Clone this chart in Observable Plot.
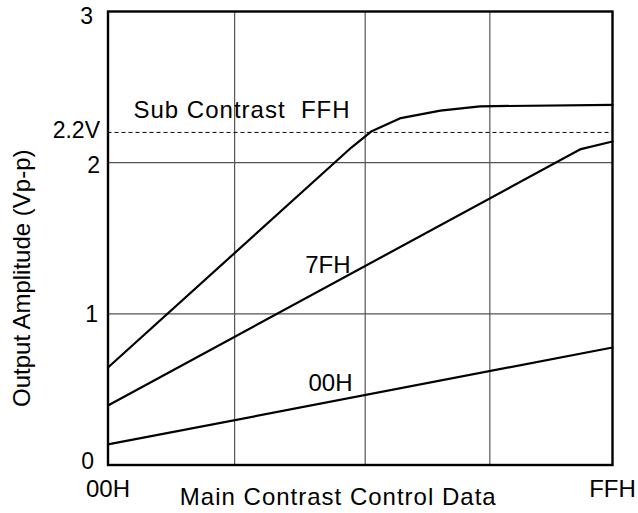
<!DOCTYPE html>
<html>
<head>
<meta charset="utf-8">
<script src="https://cdn.jsdelivr.net/npm/d3@7"></script>
<script src="https://cdn.jsdelivr.net/npm/@observablehq/plot@0.6"></script>
<style>
  html, body { margin: 0; padding: 0; background: #fff; }
  #chart { width: 638px; height: 513px; }
  svg { font-family: "Liberation Sans", Arial, sans-serif; }
</style>
</head>
<body>
<div id="chart"></div>
<script>
// Main contrast control data (0x00..0xFF) vs output amplitude (Vp-p)
const subFFH_x = [0, 123, 133, 148, 168, 188, 255];
const subFFH_y = [0.645, 2.10, 2.206, 2.295, 2.344, 2.373, 2.382];
const sub7FH_x = [0, 239, 255];
const sub7FH_y = [0.394, 2.09, 2.14];
const sub00H_x = [0, 255];
const sub00H_y = [0.136, 0.777];

const xGrid = [64, 130, 193];
const yGrid = [1, 2];
const refLevel = [2.2];
const yTicks = [0, 1, 2, 2.2, 3];
const yTickLabels = ["0", "1", "2", "2.2V", "3"];
const xTicks = [0, 255];
const xTickLabels = ["00H", "FFH"];
const xTitle = "Main Contrast Control Data";
const yTitle = "Output Amplitude (Vp-p)";

const seriesLabels = [
  {x: 122.6, y: 2.345, text: "Sub Contrast  FFH"},
  {x: 122.6, y: 1.32, text: "7FH"},
  {x: 123.6, y: 0.54, text: "00H"}
];

const rows = [];
subFFH_x.forEach((x, i) => rows.push({s: "FFH", x, y: subFFH_y[i]}));
sub7FH_x.forEach((x, i) => rows.push({s: "7FH", x, y: sub7FH_y[i]}));
sub00H_x.forEach((x, i) => rows.push({s: "00H", x, y: sub00H_y[i]}));

const yLab = d => yTickLabels[yTicks.indexOf(d)];
const yAxisOpts = {tickFormat: yLab, tickSize: 0, fontSize: 23, fill: "#000", label: null};

const chart = Plot.plot({
  width: 638,
  height: 513,
  marginLeft: 107.5,
  marginRight: 26,
  marginTop: 11,
  marginBottom: 48.5,
  style: {fontFamily: "'Liberation Sans', Arial, sans-serif", background: "#fff"},
  x: {domain: [0, 255], axis: null},
  y: {domain: [0, 3], axis: null},
  marks: [
    Plot.ruleX(xGrid, {stroke: "#555", strokeWidth: 1.2}),
    Plot.ruleY(yGrid, {stroke: "#555", strokeWidth: 1.2}),
    Plot.ruleY(refLevel, {stroke: "#000", strokeWidth: 1, strokeDasharray: "4,3"}),
    Plot.line(rows, {x: "x", y: "y", z: "s", stroke: "#000", strokeWidth: 2.2}),
    Plot.frame({stroke: "#000", strokeWidth: 2.4}),
    Plot.axisY({...yAxisOpts, ticks: [yTicks[4]], tickPadding: 15, dy: 5}),
    Plot.axisY({...yAxisOpts, ticks: [yTicks[2]], tickPadding: 8, dy: 3}),
    Plot.axisY({...yAxisOpts, ticks: [yTicks[3]], tickPadding: 8, dy: -2}),
    Plot.axisY({...yAxisOpts, ticks: [yTicks[1]], tickPadding: 10, dy: 1}),
    Plot.axisY({...yAxisOpts, ticks: [yTicks[0]], tickPadding: 14, dy: -3}),
    Plot.axisX({ticks: xTicks, tickFormat: d => xTickLabels[xTicks.indexOf(d)], tickSize: 0, tickPadding: 15, fontSize: 24, fill: "#000", label: null}),
    Plot.text([xTitle], {frameAnchor: "bottom", textAnchor: "middle", dx: -22, dy: 40, fontSize: 24, fill: "#000"}),
    Plot.text([yTitle], {frameAnchor: "left", textAnchor: "middle", rotate: -90, dx: -85.5, dy: 40, fontSize: 24, fill: "#000"}),
    Plot.text(seriesLabels, {x: "x", y: "y", text: "text", textAnchor: "end", fontSize: 24, fill: "#000"})
  ]
});
// slightly wider lettering, as in the reference
d3.select(chart).selectAll("text")
  .filter(function() { return this.textContent === xTitle; })
  .attr("letter-spacing", "1px");
d3.select(chart).selectAll("text")
  .filter(function() { return this.textContent === seriesLabels[0].text; })
  .attr("letter-spacing", "1px");
document.getElementById("chart").appendChild(chart);
</script>
</body>
</html>
